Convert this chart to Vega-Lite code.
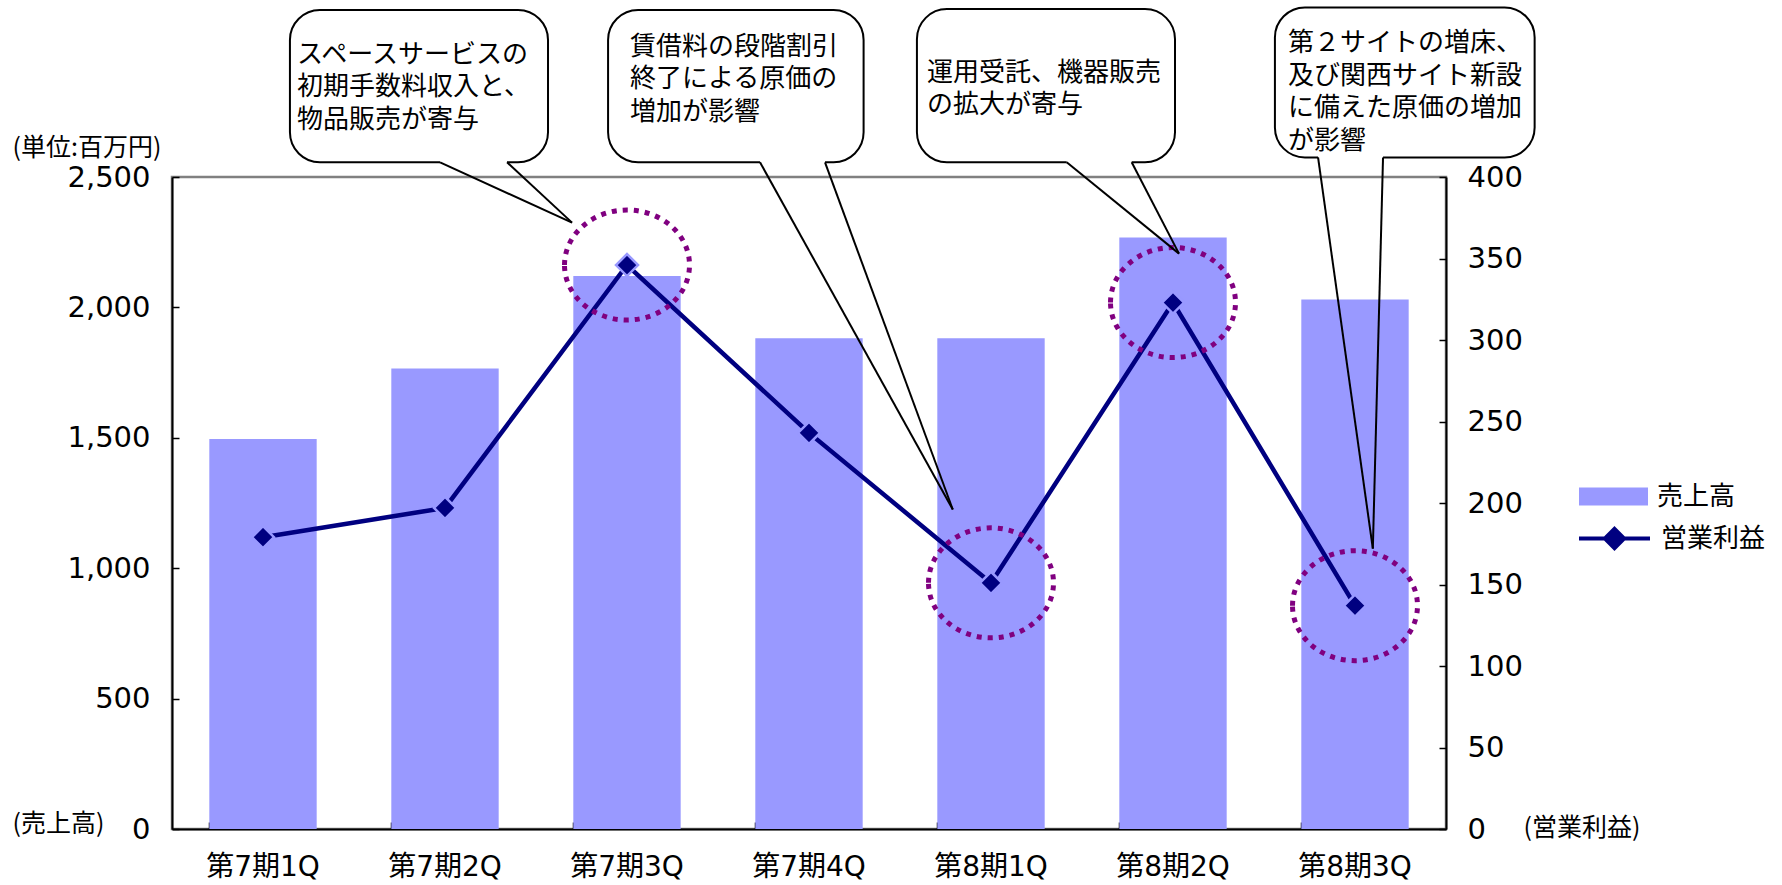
{
  "$schema": "https://vega.github.io/schema/vega-lite/v6.json",
  "width": 1274,
  "height": 652,
  "autosize": {"type": "none"},
  "padding": {"left": 172, "top": 177, "right": 336, "bottom": 56},
  "background": "white",
  "config": {"view": {"stroke": "#808080", "strokeWidth": 2.5}, "font": "Noto Sans CJK JP"},
  "datasets": {
    "quarters": [
      {"q": "第7期1Q", "sales": 1495, "profit": 179, "circled": false},
      {"q": "第7期2Q", "sales": 1766, "profit": 197, "circled": false},
      {"q": "第7期3Q", "sales": 2120, "profit": 346, "circled": true},
      {"q": "第7期4Q", "sales": 1882, "profit": 243, "circled": false},
      {"q": "第8期1Q", "sales": 1882, "profit": 151, "circled": true},
      {"q": "第8期2Q", "sales": 2268, "profit": 323, "circled": true},
      {"q": "第8期3Q", "sales": 2030, "profit": 137, "circled": true}
    ],
    "callouts": [
      {"label": "スペースサービスの\n初期手数料収入と、\n物品販売が寄与", "bx0": 0.648, "bx1": 2.066, "by0": 409, "by1": 502.5, "xa": 1.473, "xb": 1.841, "tx": 2.198, "ty": 372, "lx": 0.687, "ly": 483},
      {"label": "賃借料の段階割引\n終了による原価の\n増加が影響", "bx0": 2.396, "bx1": 3.8, "by0": 409, "by1": 502.5, "xa": 3.231, "xb": 3.588, "tx": 4.29, "ty": 196, "lx": 2.516, "ly": 488},
      {"label": "運用受託、機器販売\nの拡大が寄与", "bx0": 4.093, "bx1": 5.511, "by0": 409, "by1": 503, "xa": 4.916, "xb": 5.273, "tx": 5.533, "ty": 353, "lx": 4.148, "ly": 472},
      {"label": "第２サイトの増床、\n及び関西サイト新設\nに備えた原価の増加\nが影響", "bx0": 6.06, "bx1": 7.487, "by0": 412, "by1": 504, "xa": 6.297, "xb": 6.654, "tx": 6.598, "ty": 172, "lx": 6.132, "ly": 490}
    ]
  },
  "layer": [
    {
      "data": {"name": "quarters"},
      "mark": {"type": "bar"},
      "encoding": {
        "x": {
          "field": "q", "type": "nominal", "sort": null,
          "scale": {"paddingInner": 0.41, "paddingOuter": 0.205},
          "axis": {
            "orient": "bottom", "title": "(売上高)", "titleX": -160, "titleY": -6,
            "titleAlign": "left", "titleBaseline": "middle", "titleAngle": 0,
            "titleFontSize": 25, "titleFontWeight": "normal", "titleFont": "Noto Sans CJK JP", "titleColor": "black",
            "labelAngle": 0, "labelFontSize": 28, "labelFont": "DejaVu Sans, Noto Sans CJK JP", "labelColor": "black",
            "labelPadding": 31, "tickSize": -7, "tickColor": "black", "tickWidth": 1.5, "bandPosition": 0,
            "domainColor": "black", "domainWidth": 2
          }
        },
        "y": {
          "field": "sales", "type": "quantitative",
          "scale": {"domain": [0, 2500], "nice": false},
          "axis": {
            "orient": "left", "values": [0, 500, 1000, 1500, 2000, 2500], "format": ",.0f", "grid": false,
            "title": "(単位:百万円)", "titleX": -160, "titleY": -30, "titleAlign": "left", "titleBaseline": "middle", "titleAngle": 0,
            "titleFontSize": 25, "titleFontWeight": "normal", "titleFont": "Noto Sans CJK JP", "titleColor": "black",
            "labelFontSize": 29, "labelFont": "DejaVu Sans", "labelColor": "black", "labelPadding": 29,
            "tickSize": -7, "tickColor": "black", "tickWidth": 1.5, "domainColor": "black", "domainWidth": 2
          }
        },
        "fill": {
          "datum": "売上高", "type": "nominal",
          "scale": {"range": ["#9999FF"]},
          "legend": {
            "title": null, "orient": "none", "legendX": 1407, "legendY": 285, "padding": 0,
            "symbolType": "M-1,-0.26H1V0.26H-1Z", "symbolSize": 4761, "symbolStrokeWidth": 0,
            "labelFontSize": 26, "labelFont": "Noto Sans CJK JP", "labelColor": "black", "labelOffset": 9
          }
        }
      }
    },
    {
      "data": {"name": "quarters"},
      "encoding": {
        "x": {"field": "q", "type": "nominal", "sort": null, "axis": null},
        "y": {
          "field": "profit", "type": "quantitative",
          "scale": {"domain": [0, 400], "nice": false},
          "axis": {
            "orient": "right", "values": [0, 50, 100, 150, 200, 250, 300, 350, 400], "grid": false,
            "title": "(営業利益)", "titleX": 77, "titleY": 650, "titleAlign": "left", "titleBaseline": "middle", "titleAngle": 0,
            "titleFontSize": 25, "titleFontWeight": "normal", "titleFont": "Noto Sans CJK JP", "titleColor": "black",
            "labelFontSize": 29, "labelFont": "DejaVu Sans", "labelColor": "black", "labelPadding": 28,
            "tickSize": -7, "tickColor": "black", "tickWidth": 1.5, "domainColor": "black", "domainWidth": 2
          }
        }
      },
      "layer": [
        {
          "mark": {"type": "line", "strokeWidth": 4.5},
          "encoding": {
            "stroke": {
              "datum": "営業利益", "type": "nominal",
              "scale": {"range": ["#000080"]},
              "legend": {
                "title": null, "orient": "none", "legendX": 1405, "legendY": 324, "padding": 0,
                "symbolType": "M-1,0H-0.28M0.28,0H1M0,-0.27L0.27,0L0,0.27L-0.27,0Z", "symbolSize": 5041,
                "symbolStrokeWidth": 4, "symbolFillColor": "#000080",
                "labelFontSize": 26, "labelFont": "Noto Sans CJK JP", "labelColor": "black", "labelOffset": 9,
                "encode": {"symbols": {"update": {"fill": {"value": "#000080"}, "stroke": {"value": "#000080"}}}}
              }
            }
          }
        },
        {
          "mark": {"type": "point", "shape": "diamond", "filled": true, "size": 484, "fill": "#000080", "stroke": "#9999FF", "strokeWidth": 2.5, "opacity": 1}
        },
        {
          "transform": [{"filter": "datum.circled"}],
          "mark": {
            "type": "point",
            "shape": "M-1,0C-1,-0.486 -0.552,-0.88 0,-0.88C0.552,-0.88 1,-0.486 1,0C1,0.486 0.552,0.88 0,0.88C-0.552,0.88 -1,0.486 -1,0Z",
            "size": 15625, "filled": false, "stroke": "#800080", "strokeWidth": 5, "strokeDash": [5, 6], "opacity": 1
          }
        }
      ]
    },
    {
      "data": {"name": "callouts"},
      "layer": [
        {
          "mark": {"type": "rect", "fill": "white", "stroke": "black", "strokeWidth": 2, "cornerRadius": 30},
          "encoding": {
            "x": {"field": "bx0", "type": "quantitative", "scale": {"domain": [0, 7], "nice": false, "zero": false}, "axis": null},
            "x2": {"field": "bx1"},
            "y": {"field": "by0", "type": "quantitative", "scale": {"domain": [0, 400], "nice": false}, "axis": null},
            "y2": {"field": "by1"}
          }
        },
        {
          "mark": {"type": "rule", "stroke": "white", "strokeWidth": 4},
          "encoding": {
            "x": {"field": "xa", "type": "quantitative", "scale": {"domain": [0, 7], "nice": false, "zero": false}, "axis": null},
            "x2": {"field": "xb"},
            "y": {"field": "by0", "type": "quantitative", "scale": {"domain": [0, 400], "nice": false}, "axis": null}
          }
        },
        {
          "mark": {"type": "rule", "stroke": "black", "strokeWidth": 2},
          "encoding": {
            "x": {"field": "xa", "type": "quantitative", "scale": {"domain": [0, 7], "nice": false, "zero": false}, "axis": null},
            "x2": {"field": "tx"},
            "y": {"field": "by0", "type": "quantitative", "scale": {"domain": [0, 400], "nice": false}, "axis": null},
            "y2": {"field": "ty"}
          }
        },
        {
          "mark": {"type": "rule", "stroke": "black", "strokeWidth": 2},
          "encoding": {
            "x": {"field": "xb", "type": "quantitative", "scale": {"domain": [0, 7], "nice": false, "zero": false}, "axis": null},
            "x2": {"field": "tx"},
            "y": {"field": "by0", "type": "quantitative", "scale": {"domain": [0, 400], "nice": false}, "axis": null},
            "y2": {"field": "ty"}
          }
        },
        {
          "mark": {"type": "text", "align": "left", "baseline": "top", "fontSize": 26, "lineHeight": 32.5, "lineBreak": "\n", "font": "Noto Sans CJK JP", "color": "black"},
          "encoding": {
            "x": {"field": "lx", "type": "quantitative", "scale": {"domain": [0, 7], "nice": false, "zero": false}, "axis": null},
            "y": {"field": "ly", "type": "quantitative", "scale": {"domain": [0, 400], "nice": false}, "axis": null},
            "text": {"field": "label"}
          }
        }
      ]
    }
  ],
  "resolve": {"scale": {"x": "independent", "y": "independent", "fill": "independent", "stroke": "independent"}}
}
